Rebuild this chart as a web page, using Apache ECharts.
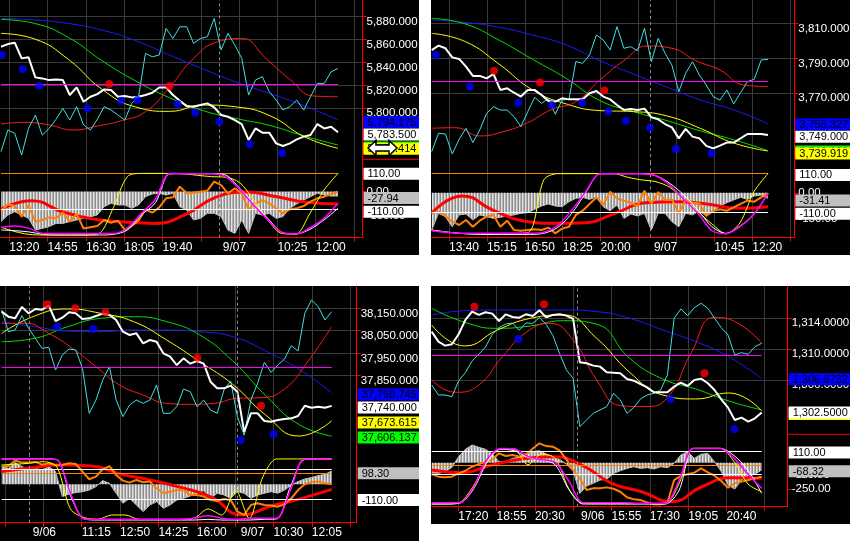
<!DOCTYPE html>
<html><head><meta charset="utf-8">
<script src="https://cdn.jsdelivr.net/npm/echarts@6/dist/echarts.min.js"></script>
<style>html,body{margin:0;padding:0;background:#fff}#c{width:850px;height:541px}</style>
</head><body><div id="c"></div>
<script>
// ================= DATA =================
// ---- Panel 1 ----
const p1Price = [5858.2,5860.5,5861.7,5848,5848.9,5831.4,5830.5,5829,5829.6,5829,5816,5822.6,5810.1,5814.5,5816.8,5820.9,5820.3,5814.5,5815.1,5813.9,5814.5,5816,5818,5822.6,5822.6,5816,5811,5806.3,5805.8,5807.2,5808.7,5805.2,5798.5,5797,5794.1,5790.6,5776.7,5786.8,5783.1,5783.1,5773.7,5771.4,5773.7,5777.2,5779.6,5781,5790.6,5786.8,5788.3,5783.5];
const p1Cyan = [5766.5,5785.4,5782.5,5763.6,5786.8,5798.5,5781,5786.8,5794.7,5804.3,5794.1,5805.8,5789.8,5785.4,5794.7,5805.8,5802.9,5798.5,5794.1,5808.7,5814.5,5852.3,5849.4,5850.9,5874.2,5865.4,5875.6,5875.6,5861.1,5865.4,5866.9,5882.9,5855.3,5869.8,5859.6,5848,5816,5829.1,5832,5818.9,5811.6,5802.9,5805.8,5811.6,5802.9,5814.5,5826.1,5826.1,5836.3,5839.2];
const p1RedMA = [5790.6,5792.1,5789.8,5785.4,5788.9,5793.5,5801.4,5822.6,5848,5862.5,5865.4,5848,5829.6,5815.1,5814.5];
const p1YellowMA = [5869.8,5864.9,5847.1,5820.9,5805.5,5801.7,5807.2,5805.5,5797.6,5779.6,5769.4];
const p1GreenMA = [5882,5878.5,5866.3,5845.9,5828.2,5813.6,5802.3,5795.3,5789.2,5780.1,5772.3];
const p1BlueMA = [5882.9,5881.5,5878.5,5872.7,5863.4,5850.9,5838.7,5827,5817.1,5806.6,5794.175];
const p1Level = 5825.3;
const p1RedDots = [[15.73,5825.6],[24.51,5823.8]];
const p1BlueDots = [[0.1,5850.9],[3.16,5838.4],[5.58,5823.8],[12.57,5804.3],[17.48,5811.0],[19.85,5811.6],[25.68,5808.1],[28.25,5800.5],[31.75,5792.7],[36.17,5772.9],[40.87,5765.0]];
const p1Hist = [-186,-145,-125,-145,-166,-238,-228,-217,-197,-197,-186,-176,-166,-156,-145,-94,-73,-83,-83,-104,-83,-32,-15,-11,-22,-11,-94,-114,-176,-166,-135,-135,-155,-238,-259,-176,-259,-135,-145,-135,-166,-155,-104,-77,-53,-32,-11,-22,-28,-27.94];
const p1OscRed = [-110,-57,-125,-170,-188,-197,-145,-36,-3,-32,-67,-77];
const p1OscOrange = [-121,-79,-90,-156,-83,-186,-176,-160,-166,-129,-186,-139,-228,-221,-213,-176,-193,-180,-238,-213,-180,-110,-131,-98,-42,-36,30,-11,-7,-1,5,61,40,-11,20,-11,-110,-73,-53,-73,-104,-135,-110,-104,-90,-63,-42,-32,-15,-1];
const p1OscYellow = [-221,-248,-265,-269,-269,-269,-269,-259,-100,92,112,112,112,110,100,92,88,55,-53,-176,-259,-263,-135,9,112];
const p1OscWhite = [-238,-242,-250,-265,-269,-269,-269,-269,-265,-238,-145,-69,108,110,110,110,102,20,-73,-166,-252,-263,-234,-176,-104];
const p1OscMagenta = [-221,-213,-228,-259,-259,-259,-259,-259,-259,-224,-135,-48,112,110,110,110,92,13,-83,-176,-252,-263,-224,-166,-73];
const p1OscLevels = [110,-110];
const p1TickLabels = ['13:20','14:55','16:30','18:05','19:40','','','10:25','12:00',''];
const p1DayBreaks = [[31.75,'9/07']];
const p1PriceTicks = [5800,5820,5840,5860,5880];
const p1OscTicks = [0,-150];
const p1PriceMarks = [5794.175,5783.5,5772.3,5773.414];
const p1OscMarks = [110,-27.94,-110];

// ---- Panel 2 ----
const p2Price = [3797.6,3800.1,3798.6,3793.4,3792.5,3788.1,3782.8,3782.8,3781.4,3783.9,3774.8,3775.7,3773.2,3771,3774.8,3774.8,3771.9,3768.5,3768.1,3770,3769.4,3769.4,3769.4,3772.9,3774.2,3771,3769.4,3766.2,3763.3,3763.9,3763.3,3764.1,3759.1,3758,3755.3,3753.4,3747.1,3752.5,3748.1,3747.1,3742.8,3741.4,3743,3744.7,3744.7,3747.1,3749.6,3749.6,3749.6,3749];
const p2Cyan = [3739.5,3750,3749.6,3738.2,3746.6,3752.9,3744.7,3751.9,3761.4,3765.2,3763.3,3763.3,3759.5,3753.8,3762.4,3770.6,3767.1,3770,3760.9,3769,3769.4,3791,3790,3794.8,3806.2,3803.3,3797.6,3811,3798.6,3799.5,3797.2,3810,3791,3804.3,3795.7,3789,3773.8,3784.3,3791,3783.3,3777.6,3771,3769,3774.8,3766.8,3773.2,3779.5,3780.9,3791.9,3792.3];
const p2RedMA = [3752.9,3753.2,3748.5,3751,3756.1,3763.7,3768.1,3780.5,3791.5,3799.9,3798.6,3791.5,3786.2,3777.6,3776.7];
const p2YellowMA = [3807.1,3802.4,3789.6,3774.8,3766.8,3763,3762.4,3759.9,3752.7,3744.3,3739.919];
const p2GreenMA = [3815.7,3812.5,3803.3,3792.3,3781.4,3768.7,3762.4,3757.2,3751.3,3746.2,3740.1];
const p2BlueMA = [3814.8,3813.4,3810.6,3806.2,3800.5,3791.5,3783.9,3776.3,3769,3763.3,3755.327];
const p2Level = 3779.9;
const p2RedDots = [[9.08,3785.8],[15.78,3779.0],[25.15,3774.4]];
const p2BlueDots = [[0.63,3794.8],[5.58,3776.7],[12.62,3767.5],[17.48,3766.2],[21.94,3767.5],[25.73,3762.4],[28.3,3757.2],[31.8,3753.2],[35.58,3741.0],[40.78,3738.6]];
const p2Hist = [-214,-118,-137,-195,-127,-122,-156,-127,-137,-147,-141,-133,-127,-118,-114,-95,-76,-64,-76,-80,-51,-32,-26,-38,-22,-80,-103,-70,-147,-122,-133,-118,-214,-118,-118,-166,-195,-118,-127,-103,-133,-108,-76,-57,-41,-26,-38,-18,-13,-31.41];
const p2OscRed = [-118,-18,-99,-162,-175,-172,-118,-57,-51,-64,-89,-80];
const p2OscOrange = [-118,-108,-133,-166,-185,-156,-195,-160,-137,-127,-195,-160,-214,-218,-214,-210,-214,-200,-233,-206,-195,-127,-103,-64,-26,-70,7,-32,-45,-57,-76,12,-61,4,-41,-38,-118,-41,-57,-61,-133,-103,-95,-103,-84,-64,-45,-51,-26,-3];
const p2OscYellow = [-214,-225,-233,-237,-237,-233,-233,-223,74,110,110,110,110,110,89,74,64,31,-38,-108,-179,-235,-172,7,110];
const p2OscWhite = [-214,-225,-233,-237,-239,-239,-239,-239,-233,-199,-118,1,110,110,110,110,98,54,-13,-99,-195,-233,-191,-122,-3];
const p2OscMagenta = [-218,-227,-233,-233,-233,-233,-233,-233,-227,-187,-99,7,110,110,110,110,98,43,-38,-118,-218,-235,-195,-122,-3];
const p2OscLevels = [110,-110];
const p2TickLabels = ['13:40','15:15','16:50','18:25','20:00','','','10:45','12:20',''];
const p2DayBreaks = [[31.89,'9/07']];
const p2PriceTicks = [3770,3790,3810];
const p2OscTicks = [0,-150];
const p2PriceMarks = [3755.327,3749.0,3740.1,3739.919];
const p2OscMarks = [110,-31.41,-110];

// ---- Panel 3 ----
const p3Price = [38157.4,38135.2,38127.8,38178.1,38150,38169.2,38166.2,38184,38116,38130.8,38154.4,38150,38124.9,38127.8,38138.2,38148.5,38142.6,38120.5,38068.8,38054,38061.4,38017.1,38031.8,38024.4,37972.7,37958,37921,37950.6,37926.9,37938.8,37926.9,37847.2,37817.7,37817.7,37829.5,37802.9,37625,37706.9,37706.9,37672.9,37670,37677.3,37681.8,37684.7,37695.1,37740.8,37732,37736.4,37732,37740];
const p3Cyan = [38164.8,38068.8,38076.1,38139.7,38083.5,38039.2,37994.9,37999.3,37898.9,37965.4,37991.9,37987.5,37906.3,37706.9,37765.9,37854.6,37913.7,37765.9,37692.1,37743.8,37765.9,37751.2,37765.9,37832.4,37706.9,37706.9,37736.4,37814.7,37802.9,37736.4,37765.9,37721.6,37706.9,37810.3,37850.1,37692.1,37610,37765.9,37839.8,37932.9,37888.6,37921,37947.6,38006.7,37983.1,38150,38209.1,38179.5,38120.5,38157.4];
const p3RedMA = [38105.7,38105.7,38061.4,37994.9,37913.7,37832.4,37788.1,37751.2,37746.7,37751.2,37773.3,37776.3,37814.7,37938.8,38090.9];
const p3YellowMA = [38061.4,38138.2,38169.2,38150,38113.1,38031.8,37935.8,37835.4,37699.5,37606.4,37673.615];
const p3GreenMA = [38024.4,38039.2,38090.9,38127.8,38135.2,38113.1,38054,37938.8,37785.2,37658.1,37606.137];
const p3BlueMA = [38113.1,38090.9,38071.7,38068.8,38076.1,38076.1,38068.8,38046.6,37983.1,37903.3,37798.745];
const p3Level = 37912;
const p3RedDots = [[6.78,38189.9],[10.94,38172.2],[15.4,38154.4],[29.06,37953.5],[38.51,37740.9]];
const p3BlueDots = [[8.27,38090.9],[13.61,38080.6],[35.5,37588.7],[40.35,37615.0]];
const p3Hist = [134,117,159,130,110,117,105,130,93,-90,-71,-61,-54,-42,-17,27,7,-66,-139,-103,-152,-200,-152,-127,-176,-152,-115,-103,-86,-66,-46,-103,-66,-78,-103,-54,-66,-103,-78,-66,-54,-66,-42,-5,20,39,49,64,73,98.3];
const p3OscRed = [93,122,142,134,73,29,-24,-95,-225,-159,-103,-37];
const p3OscOrange = [130,134,174,159,159,164,144,154,139,142,154,149,93,37,56,110,134,68,27,12,32,15,20,-29,-66,-54,-42,-42,-78,-78,-90,-115,-122,-108,-115,-200,-225,-152,-139,-152,-156,-164,-147,-103,-42,0,15,20,7,0];
const p3OscYellow = [142,147,154,166,130,-181,-244,-257,-225,-225,-257,-257,-257,-257,-249,-181,-225,-42,-249,56,186,186,186,186,186];
const p3OscWhite = [186,186,186,186,181,-83,-254,-262,-262,-262,-262,-262,-262,-262,-262,-257,-262,-262,-262,-257,-254,-17,181,186,186];
const p3OscMagenta = [186,186,186,186,181,-66,-254,-257,-257,-257,-257,-257,-257,-257,-249,-230,-249,-257,-249,-249,-249,-42,186,186,186];
const p3OscLevels = [110,-110,80];
const p3TickLabels = ['','','11:15','12:50','14:25','16:00','','10:30','12:05',''];
const p3DayBreaks = [[4.11,'9/06'],[35.0,'9/07']];
const p3PriceTicks = [37850,37950,38050,38150];
const p3OscTicks = [];
const p3PriceMarks = [37798.745,37740.0,37673.615,37606.137];
const p3OscMarks = [98.30,-110];

// ---- Panel 4 ----
const p4Price = [1312.92,1311.63,1311.12,1311.29,1312.58,1314.43,1315.51,1315.08,1315.42,1315.25,1314.30,1315.16,1314.82,1314.73,1315.16,1314.95,1315.68,1314.77,1315.08,1315.16,1314.99,1314.56,1308.97,1308.84,1308.54,1308.41,1307.68,1307.63,1307.55,1306.82,1306.60,1306.17,1305.74,1305.10,1305.10,1305.10,1305.83,1306.34,1305.91,1306.69,1306.86,1306.26,1305.40,1304.19,1303.12,1301.53,1301.83,1301.31,1301.74,1302.5];
const p4Cyan = [1306.04,1304.75,1304.75,1304.54,1306.56,1307.63,1309.14,1310.00,1310.95,1312.58,1313.44,1313.91,1314.04,1313.10,1314.04,1314.00,1314.73,1313.87,1312.41,1310.09,1307.98,1306.90,1300.67,1301.53,1302.39,1302.82,1303.25,1304.97,1304.11,1302.39,1303.12,1304.24,1304.75,1304.97,1305.40,1307.33,1314.65,1315.85,1314.99,1316.02,1316.58,1315.94,1314.65,1313.44,1312.49,1309.91,1310.21,1310.00,1310.99,1311.42];
const p4RedMA = [1306.69,1305.10,1306.04,1309.70,1312.80,1314.00,1311.85,1306.69,1303.38,1303.25,1304.41,1310.13,1314.77,1314.00,1311.42];
const p4YellowMA = [1313.78,1311.08,1313.14,1314.65,1315.08,1312.06,1307.68,1304.75,1304.24,1305.01,1302.69];
const p4GreenMA = [1315.94,1314.13,1313.35,1313.66,1314.34,1313.87,1309.48,1306.82,1305.53,1303.98,1302.82];
const p4BlueMA = [1315.08,1315.63,1315.72,1315.72,1315.72,1315.51,1314.65,1313.14,1311.63,1309.70,1306.8732];
const p4Level = 1309.91;
const p4RedDots = [[6.34,1316.15],[16.68,1316.45],[40.5,1307.55]];
const p4BlueDots = [[12.87,1311.98],[35.45,1304.24],[44.95,1300.37]];
const p4Hist = [-94,-101,-85,-44,57,126,167,145,126,82,9,9,41,50,88,104,113,82,57,31,-13,-76,-290,-220,-195,-164,-157,-101,-76,-54,-38,-54,-47,-60,-38,-47,-6,72,104,41,79,88,9,-85,-211,-249,-164,-123,-110,-68.32];
const p4OscRed = [-69,-94,-22,35,57,-22,-195,-274,-368,-227,-142,-148];
const p4OscOrange = [-107,-132,-138,-132,-101,-76,-38,-13,6,31,88,63,72,57,76,132,183,157,151,113,31,-69,-148,-258,-242,-242,-233,-246,-274,-327,-346,-353,-375,-393,-393,-378,-164,-123,-110,-94,-54,-91,-123,-173,-236,-195,-179,-164,-148,-132];
const p4OscYellow = [-390,-390,-378,-227,9,129,126,-19,82,38,-252,-384,-387,-387,-387,-387,-387,-387,-195,135,135,135,9,-201,-274];
const p4OscWhite = [-390,-390,-384,-258,-6,126,113,50,28,-22,-258,-390,-390,-390,-390,-390,-390,-390,-258,135,135,135,66,-69,-290];
const p4OscMagenta = [-378,-378,-378,-242,25,135,132,57,28,0,-179,-378,-378,-378,-378,-384,-384,-384,-164,135,135,135,41,-110,-242];
const p4OscLevels = [110,-110,-25];
const p4TickLabels = ['17:20','18:55','20:30','','15:55','17:30','19:05','20:40',''];
const p4DayBreaks = [[21.68,'9/06']];
const p4PriceTicks = [1306,1310,1314];
const p4OscTicks = [0,-110,-250];
const p4PriceMarks = [1306.8732,1302.69,1302.5];
const p4OscMarks = [110,-68.32];

// ================= LAYOUT / STYLE =================
const FONT = '"Liberation Sans", Arial, sans-serif';
const GRID_C = '#3a3a3a';
const GRID_SHIFT_PX = 5.5; // grid lines/ticks sit slightly above their labels in the original
const BLUE = '#0000ff', WHITE = '#ffffff', GREEN = '#00ff00', YELLOW = '#ffff00', GRAY = '#c0c0c0', ORANGE = '#ff8000';
const layouts = [
  {bg:[0,0,419,255], left:0, right:362.5, top:0, split:162.4, bottom:237.5, boxR:419,
   price:[5757.1,5899], osc:[-284.3,180], t:[-0.145,52.56], tick0:1.207, tickStep:5.569, nTicks:10, dec:3,
   priceBox:[{c:BLUE,dy:2},{c:WHITE,dy:2.3},{c:GREEN,dy:2.5},{c:YELLOW,dy:5.1}],
   oscBox:[{c:WHITE,dy:0},{c:GRAY,dy:2},{c:WHITE,dy:2.4}],
   levelColors:[ORANGE,WHITE], sep:[362.5,159.3,419]},
  {bg:[431,0,419,255], left:431, right:794.3, top:0, split:163.05, bottom:237.3, boxR:850,
   price:[3733.0,3826.2], osc:[-255.7,171], t:[-0.1,52.83], tick0:2.525, tickStep:5.522, nTicks:10, dec:3,
   priceBox:[{c:BLUE,dy:0.5},{c:WHITE,dy:1.6},{c:GREEN,dy:0.9},{c:YELLOW,dy:2.6}],
   oscBox:[{c:WHITE,dy:1.3},{c:GRAY,dy:2.2},{c:WHITE,dy:1.8}],
   levelColors:[ORANGE,WHITE], sep:null},
  {bg:[0,286,419,255], left:0, right:356.7, top:286, split:455.7, bottom:522.7, boxR:419,
   price:[37519.2,38271.1], osc:[-281.5,209.7], t:[-0.248,52.71], tick0:0.494, tickStep:5.694, nTicks:10, dec:3,
   priceBox:[{c:BLUE,dy:1.9},{c:WHITE,dy:1.6},{c:YELLOW,dy:1.6},{c:GREEN,dy:1.4}],
   oscBox:[{c:GRAY,dy:2.4},{c:WHITE,dy:0.7}],
   levelColors:[WHITE,WHITE,ORANGE], sep:null},
  {bg:[431,286,419,238], left:431, right:787.7, top:286.1, split:441.5, bottom:506.7, boxR:850,
   price:[1298.75,1318.8], osc:[-415.5,200], t:[-0.1,52.86], tick0:3.954, tickStep:5.687, nTicks:9, dec:4,
   priceBox:[{c:BLUE,dy:0.6},{c:YELLOW,dy:3},{c:WHITE,dy:0}],
   oscBox:[{c:WHITE,dy:1.5},{c:GRAY,dy:1.4}],
   levelColors:[WHITE,WHITE,ORANGE], sep:[787.7,434.3,850]}
];

const panels = [
  {price:p1Price,cyan:p1Cyan,red:p1RedMA,yellow:p1YellowMA,green:p1GreenMA,blue:p1BlueMA,level:p1Level,redDots:p1RedDots,blueDots:p1BlueDots,
   hist:p1Hist,oRed:p1OscRed,orange:p1OscOrange,oYellow:p1OscYellow,oWhite:p1OscWhite,oMag:p1OscMagenta,oLevels:p1OscLevels,
   tickLabels:p1TickLabels,dayBreaks:p1DayBreaks,priceTicks:p1PriceTicks,oscTicks:p1OscTicks,priceMarks:p1PriceMarks,oscMarks:p1OscMarks},
  {price:p2Price,cyan:p2Cyan,red:p2RedMA,yellow:p2YellowMA,green:p2GreenMA,blue:p2BlueMA,level:p2Level,redDots:p2RedDots,blueDots:p2BlueDots,
   hist:p2Hist,oRed:p2OscRed,orange:p2OscOrange,oYellow:p2OscYellow,oWhite:p2OscWhite,oMag:p2OscMagenta,oLevels:p2OscLevels,
   tickLabels:p2TickLabels,dayBreaks:p2DayBreaks,priceTicks:p2PriceTicks,oscTicks:p2OscTicks,priceMarks:p2PriceMarks,oscMarks:p2OscMarks},
  {price:p3Price,cyan:p3Cyan,red:p3RedMA,yellow:p3YellowMA,green:p3GreenMA,blue:p3BlueMA,level:p3Level,redDots:p3RedDots,blueDots:p3BlueDots,
   hist:p3Hist,oRed:p3OscRed,orange:p3OscOrange,oYellow:p3OscYellow,oWhite:p3OscWhite,oMag:p3OscMagenta,oLevels:p3OscLevels,
   tickLabels:p3TickLabels,dayBreaks:p3DayBreaks,priceTicks:p3PriceTicks,oscTicks:p3OscTicks,priceMarks:p3PriceMarks,oscMarks:p3OscMarks},
  {price:p4Price,cyan:p4Cyan,red:p4RedMA,yellow:p4YellowMA,green:p4GreenMA,blue:p4BlueMA,level:p4Level,redDots:p4RedDots,blueDots:p4BlueDots,
   hist:p4Hist,oRed:p4OscRed,orange:p4OscOrange,oYellow:p4OscYellow,oWhite:p4OscWhite,oMag:p4OscMagenta,oLevels:p4OscLevels,
   tickLabels:p4TickLabels,dayBreaks:p4DayBreaks,priceTicks:p4PriceTicks,oscTicks:p4OscTicks,priceMarks:p4PriceMarks,oscMarks:p4OscMarks}
];

// ================= BUILD =================
function fmt(v, d) {
  const neg = v < 0 && Math.abs(v) > 1e-9;
  const s = Math.abs(v).toFixed(d).split('.');
  const a = s[0].replace(/\B(?=(\d{3})+(?!\d))/g, ',');
  return (neg ? '-' : '') + a + (s[1] !== undefined ? '.' + s[1] : '');
}
const N = p1Price.length;
const xy = arr => arr.map((v, i) => [i * (N - 1) / (arr.length - 1), v]);

const stripe = document.createElement('canvas');
stripe.width = 3; stripe.height = 2;
(function(){ const g = stripe.getContext('2d'); const cs = ['#e4e4e4','#b4b4b4','#8e8e8e']; cs.forEach((c,i)=>{ g.fillStyle=c; g.fillRect(i,0,1,2); }); })();

const option = {
  animation: false, backgroundColor: '#ffffff',
  grid: [], xAxis: [], yAxis: [], series: [], visualMap: [], graphic: []
};
const orangeIdx = [];
const redAxis = {color: '#ff0000', width: 1};

function line(ax, data, color, width, z, extra) {
  return Object.assign({type: 'line', xAxisIndex: ax, yAxisIndex: ax, data: data, symbol: 'none', showSymbol: false,
    lineStyle: {color: color, width: width}, itemStyle: {color: color}, z: z, silent: true, animation: false}, extra || {});
}

panels.forEach((P, k) => {
  const L = layouts[k];
  const gi = 2 * k, go = 2 * k + 1;
  option.grid.push({left: L.left, top: L.top, width: L.right - L.left, height: L.split - L.top, show: false, containLabel: false, outerBoundsMode: 'none'});
  option.grid.push({left: L.left, top: L.split, width: L.right - L.left, height: L.bottom - L.split, show: false, containLabel: false, outerBoundsMode: 'none'});
  const ticks = [];
  for (let i = 0; i < L.nTicks; i++) ticks.push(+(L.tick0 + i * L.tickStep).toFixed(3));
  const labelMap = {}, labelVals = [];
  P.tickLabels.forEach((s, i) => { if (s) { labelMap[ticks[i].toFixed(3)] = s; labelVals.push(ticks[i]); } });
  P.dayBreaks.forEach(d => { labelMap[(+d[0]).toFixed(3)] = ' ' + d[1]; labelVals.push(d[0]); });
  const xb = {type: 'value', min: L.t[0], max: L.t[1]};
  option.xAxis.push(Object.assign({}, xb, {gridIndex: gi,
    axisLine: {show: false, onZero: false}, axisTick: {show: false, customValues: ticks}, axisLabel: {show: false},
    splitLine: {show: true, customValues: ticks, lineStyle: {color: GRID_C, width: 1}}}));
  option.xAxis.push(Object.assign({}, xb, {gridIndex: go,
    axisLine: {show: true, onZero: false, lineStyle: redAxis},
    axisTick: {show: true, customValues: ticks, length: 4, lineStyle: redAxis},
    axisLabel: {show: true, customValues: labelVals, formatter: v => labelMap[(+v).toFixed(3)] || '', color: '#ffffff',
      fontSize: 12, fontFamily: FONT, align: 'left', margin: 4, hideOverlap: false},
    splitLine: {show: true, customValues: ticks, lineStyle: {color: GRID_C, width: 1}}}));
  const unitsPerPx = (L.price[1] - L.price[0]) / (L.split - L.top);
  const gridVals = P.priceTicks.map(v => v + GRID_SHIFT_PX * unitsPerPx);
  option.yAxis.push({type: 'value', gridIndex: gi, position: 'right', min: L.price[0], max: L.price[1],
    axisLine: {show: true, onZero: false, lineStyle: redAxis},
    axisTick: {show: true, customValues: gridVals, length: 4, lineStyle: redAxis},
    axisLabel: {show: true, customValues: P.priceTicks, formatter: v => fmt(v, L.dec), color: '#ffffff', fontSize: 11.5, fontFamily: FONT, margin: 4},
    splitLine: {show: true, customValues: gridVals, lineStyle: {color: GRID_C, width: 1}}});
  const hasOT = P.oscTicks.length > 0;
  option.yAxis.push({type: 'value', gridIndex: go, position: 'right', min: L.osc[0], max: L.osc[1],
    axisLine: {show: true, onZero: false, lineStyle: redAxis},
    axisTick: hasOT ? {show: true, customValues: P.oscTicks, length: 4, lineStyle: redAxis} : {show: false},
    axisLabel: hasOT ? {show: true, customValues: P.oscTicks, formatter: v => fmt(v, 2), color: '#ffffff', fontSize: 11.5, fontFamily: FONT, margin: 4} : {show: false},
    splitLine: {show: false}});

  const dayLines = P.dayBreaks.map(d => ({xAxis: d[0]}));
  const dashStyle = {color: '#8c8c8c', type: [3, 3], width: 1};
  // price grid
  option.series.push(line(gi, xy(P.blue), '#1a1aff', 1, 2, {smooth: true,
    markLine: {silent: true, symbol: 'none', animation: false, label: {show: false},
      data: dayLines.map(d => Object.assign({lineStyle: dashStyle}, d)).concat([
        [{coord: [0, P.level], lineStyle: {color: '#ff00ff', width: 1, type: 'solid'}}, {coord: [N - 1, P.level]}]
      ])}}));
  option.series.push(line(gi, xy(P.green), '#00e000', 1, 2, {smooth: true}));
  option.series.push(line(gi, xy(P.yellow), '#ffff00', 1, 2, {smooth: true}));
  option.series.push(line(gi, xy(P.red), '#ff1a1a', 1, 2, {smooth: true}));
  option.series.push(line(gi, xy(P.cyan), '#3fe0e0', 1, 3));
  option.series.push(line(gi, xy(P.price), '#ffffff', 2, 4));
  option.series.push({type: 'scatter', xAxisIndex: gi, yAxisIndex: gi, data: P.redDots, symbolSize: 8, itemStyle: {color: '#ff0000'}, z: 6, silent: true});
  option.series.push({type: 'scatter', xAxisIndex: gi, yAxisIndex: gi, data: P.blueDots, symbolSize: 8, itemStyle: {color: '#0000ff'}, z: 6, silent: true});
  // oscillator grid
  option.series.push(line(go, xy(P.hist), '#bdbdbd', 1, 2, {
    areaStyle: {color: {image: stripe, repeat: 'repeat'}, opacity: 1},
    markLine: {silent: true, symbol: 'none', animation: false, label: {show: false}, data: dayLines.map(d => Object.assign({lineStyle: dashStyle}, d))}}));
  option.series.push(line(go, xy(P.oRed), '#ff0000', 3, 3, {smooth: true,
    markLine: {silent: true, symbol: 'none', animation: false, label: {show: false},
      data: P.oLevels.map((v, i) => [{coord: [0, v], lineStyle: {color: L.levelColors[i], width: 1, type: 'solid'}}, {coord: [N - 1, v]}])}}));
  orangeIdx.push(option.series.length);
  option.series.push(line(go, xy(P.orange), '#ff8000', 2, 4));
  option.series.push(line(go, xy(P.oYellow), '#ffff00', 1, 5, {smooth: 0.3}));
  option.series.push(line(go, xy(P.oWhite), '#ffffff', 1, 5, {smooth: 0.3}));
  option.series.push(line(go, xy(P.oMag), '#ff00ff', 1.5, 5, {smooth: 0.3}));

  option.graphic.push({type: 'rect', id: 'bg' + k, silent: true, z: -100,
    shape: {x: L.bg[0], y: L.bg[1], width: L.bg[2], height: L.bg[3]}, style: {fill: '#000000'}});
  if (L.sep) option.graphic.push({type: 'line', id: 'sep' + k, silent: true, z: 50,
    shape: {x1: L.sep[0], y1: L.sep[1], x2: L.sep[2], y2: L.sep[1]}, style: {stroke: '#ff0000', lineWidth: 1}});
});

option.visualMap.push({type: 'continuous', show: false, seriesIndex: orangeIdx, dimension: 1, min: -500, max: 250,
  inRange: {color: ['#ff0000', '#ff2400', '#ff4800', '#ff8c00', '#ffff00']}});

const chart = echarts.init(document.getElementById('c'), null, {renderer: 'canvas'});
chart.setOption(option);

// value boxes on the right-hand axes (later boxes cover earlier ones)
const boxes = [];
let zc = 60;
function addBox(id, L, y, bg, text) {
  const h = 12;
  boxes.push({type: 'rect', id: id + 'r', silent: true, z: zc++,
    shape: {x: L.right + 1, y: y - h / 2, width: L.boxR - L.right - 1, height: h}, style: {fill: bg}});
  boxes.push({type: 'text', id: id + 't', silent: true, z: zc++,
    style: {x: L.right + 5, y: y + 0.5, text: text, fill: '#000000', font: '11px ' + FONT, textAlign: 'left', textVerticalAlign: 'middle', verticalAlign: 'middle'}});
}
panels.forEach((P, k) => {
  const L = layouts[k];
  P.priceMarks.forEach((v, i) => {
    const y = chart.convertToPixel({yAxisIndex: 2 * k}, v) + L.priceBox[i].dy;
    addBox('pb' + k + '_' + i, L, y, L.priceBox[i].c, fmt(v, L.dec));
  });
  P.oscMarks.forEach((v, i) => {
    const y = chart.convertToPixel({yAxisIndex: 2 * k + 1}, v) + L.oscBox[i].dy;
    addBox('ob' + k + '_' + i, L, y, L.oscBox[i].c, fmt(v, 2));
  });
});
// mouse cursor (double arrow) seen over panel 1 value boxes
boxes.push({type: 'polygon', id: 'cursor', silent: true, z: 200,
  shape: {points: [[368, 148], [376, 140.5], [376, 145], [389, 145], [389, 140.5], [397, 148], [389, 155.5], [389, 151], [376, 151], [376, 155.5]]},
  style: {fill: '#ffffff', stroke: '#000000', lineWidth: 1.5}});
chart.setOption({graphic: option.graphic.concat(boxes)});
</script>
</body></html>
